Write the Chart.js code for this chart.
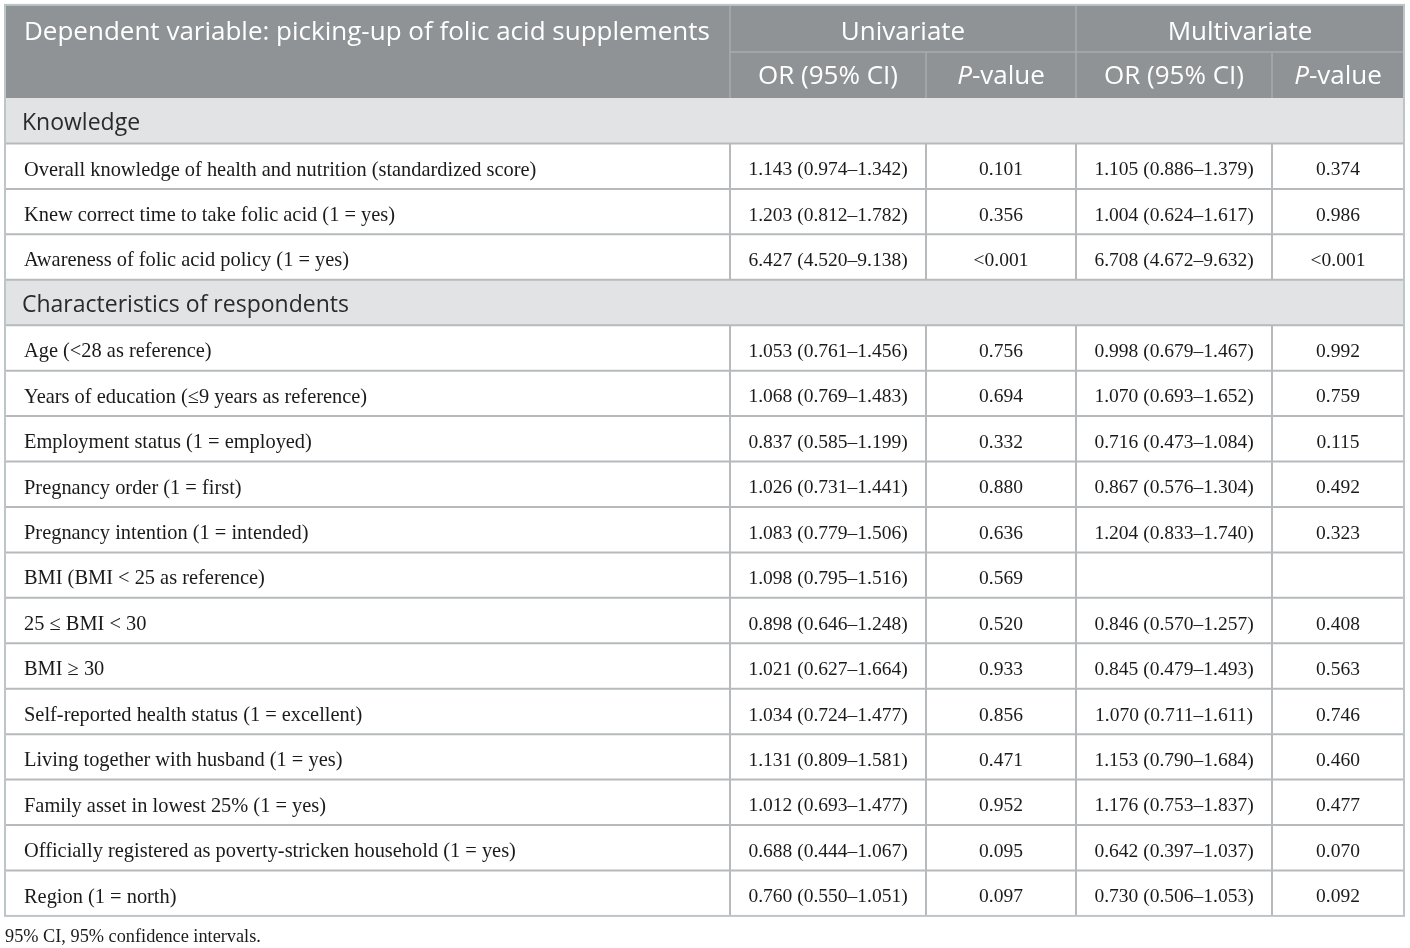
<!DOCTYPE html>
<html>
<head>
<meta charset="utf-8">
<title>Folic acid supplements - logistic regression</title>
<script src="https://cdn.jsdelivr.net/npm/chart.js@4.4.1/dist/chart.umd.min.js"></script>
<style>
    body { margin: 0; background: #ffffff; }
    canvas { display: block; }
</style>
</head>
<body>
<canvas id="tableChart" width="1410" height="948"></canvas>
<script>
// Données du tableau
const titleText = 'Dependent variable: picking-up of folic acid supplements';
const modelNames = ['Univariate', 'Multivariate'];
const statNames = ['OR (95% CI)', 'P-value'];
const sectionNames = ['Knowledge', 'Characteristics of respondents'];
const sectionSizes = [3, 13];
const variables = [
    'Overall knowledge of health and nutrition (standardized score)',
    'Knew correct time to take folic acid (1 = yes)',
    'Awareness of folic acid policy (1 = yes)',
    'Age (<28 as reference)',
    'Years of education (\u22649 years as reference)',
    'Employment status (1 = employed)',
    'Pregnancy order (1 = first)',
    'Pregnancy intention (1 = intended)',
    'BMI (BMI < 25 as reference)',
    '25 \u2264 BMI < 30',
    'BMI \u2265 30',
    'Self-reported health status (1 = excellent)',
    'Living together with husband (1 = yes)',
    'Family asset in lowest 25% (1 = yes)',
    'Officially registered as poverty-stricken household (1 = yes)',
    'Region (1 = north)'
];
const uniOR = [
    '1.143 (0.974\u20131.342)', '1.203 (0.812\u20131.782)', '6.427 (4.520\u20139.138)',
    '1.053 (0.761\u20131.456)', '1.068 (0.769\u20131.483)', '0.837 (0.585\u20131.199)',
    '1.026 (0.731\u20131.441)', '1.083 (0.779\u20131.506)', '1.098 (0.795\u20131.516)',
    '0.898 (0.646\u20131.248)', '1.021 (0.627\u20131.664)', '1.034 (0.724\u20131.477)',
    '1.131 (0.809\u20131.581)', '1.012 (0.693\u20131.477)', '0.688 (0.444\u20131.067)',
    '0.760 (0.550\u20131.051)'
];
const uniP = [
    '0.101', '0.356', '<0.001', '0.756', '0.694', '0.332', '0.880', '0.636',
    '0.569', '0.520', '0.933', '0.856', '0.471', '0.952', '0.095', '0.097'
];
const multiOR = [
    '1.105 (0.886\u20131.379)', '1.004 (0.624\u20131.617)', '6.708 (4.672\u20139.632)',
    '0.998 (0.679\u20131.467)', '1.070 (0.693\u20131.652)', '0.716 (0.473\u20131.084)',
    '0.867 (0.576\u20131.304)', '1.204 (0.833\u20131.740)', '',
    '0.846 (0.570\u20131.257)', '0.845 (0.479\u20131.493)', '1.070 (0.711\u20131.611)',
    '1.153 (0.790\u20131.684)', '1.176 (0.753\u20131.837)', '0.642 (0.397\u20131.037)',
    '0.730 (0.506\u20131.053)'
];
const multiP = [
    '0.374', '0.986', '<0.001', '0.992', '0.759', '0.115', '0.492', '0.323',
    '', '0.408', '0.563', '0.746', '0.460', '0.477', '0.070', '0.092'
];
const footnote = '95% CI, 95% confidence intervals.';

// Mise en page (unités des échelles : x en colonnes, y en lignes)
const colEdges = [5, 730, 926, 1076, 1272, 1404];
const headerTop = -2.05;
const headerMid = -1.01;
const footRow = 18.42;

const sansFont = '"Open Sans", "Noto Sans", sans-serif';
const serifFont = '"Liberation Serif", "DejaVu Serif", serif';
const headSize = 26;

// Construire la liste des lignes (sections + variables)
const rows = [];
let vi = 0;
sectionNames.forEach((name, s) => {
    rows.push({ section: name });
    for (let k = 0; k < sectionSizes[s]; k++) {
        rows.push({ cells: [variables[vi], uniOR[vi], uniP[vi], multiOR[vi], multiP[vi]] });
        vi++;
    }
});

function drawPValue(ctx, cx, cy, size, color) {
    ctx.fillStyle = color;
    ctx.textBaseline = 'middle';
    ctx.textAlign = 'left';
    ctx.font = 'italic ' + size + 'px ' + sansFont;
    const wP = ctx.measureText('P').width;
    ctx.font = size + 'px ' + sansFont;
    const wRest = ctx.measureText('-value').width;
    const start = cx - (wP + wRest) / 2;
    ctx.font = 'italic ' + size + 'px ' + sansFont;
    ctx.fillText('P', start, cy);
    ctx.font = size + 'px ' + sansFont;
    ctx.fillText('-value', start + wP, cy);
}

const tablePlugin = {
    id: 'tableCells',
    afterDraw(chart) {
        const ctx = chart.ctx;
        const X = v => chart.scales.x.getPixelForValue(v);
        const Y = v => chart.scales.y.getPixelForValue(v);
        const left = X(colEdges[0]);
        const right = X(colEdges[colEdges.length - 1]);
        ctx.save();

        // En-tête
        ctx.fillStyle = '#8f9396';
        ctx.fillRect(left, Y(headerTop), right - left, Y(0) - Y(headerTop));
        ctx.strokeStyle = '#a8acaf';
        ctx.lineWidth = 1.5;
        ctx.beginPath();
        ctx.moveTo(X(colEdges[1]), Y(headerMid));
        ctx.lineTo(right, Y(headerMid));
        [1, 3].forEach(c => {
            ctx.moveTo(X(colEdges[c]), Y(headerTop));
            ctx.lineTo(X(colEdges[c]), Y(0));
        });
        [2, 4].forEach(c => {
            ctx.moveTo(X(colEdges[c]), Y(headerMid));
            ctx.lineTo(X(colEdges[c]), Y(0));
        });
        ctx.stroke();

        const topMid = (Y(headerTop) + Y(headerMid)) / 2 + 4;
        const subMid = (Y(headerMid) + Y(0)) / 2 + 2;
        ctx.fillStyle = '#ffffff';
        ctx.textBaseline = 'middle';
        ctx.font = headSize + 'px ' + sansFont;
        ctx.textAlign = 'left';
        ctx.fillText(titleText, X(24), topMid);
        ctx.textAlign = 'center';
        modelNames.forEach((m, k) => {
            const a = colEdges[1 + 2 * k], b = colEdges[3 + 2 * k];
            ctx.fillText(m, X((a + b) / 2), topMid);
        });
        for (let c = 1; c < 5; c++) {
            const cx = X((colEdges[c] + colEdges[c + 1]) / 2);
            if (c % 2 === 1) {
                ctx.font = headSize + 'px ' + sansFont;
                ctx.textAlign = 'center';
                ctx.fillStyle = '#ffffff';
                ctx.fillText(statNames[0], cx, subMid);
            } else {
                drawPValue(ctx, cx, subMid, headSize, '#ffffff');
            }
        }

        // Lignes du corps
        rows.forEach((row, r) => {
            const top = Y(r), bottom = Y(r + 1);
            const mid = (top + bottom) / 2;
            if (row.section) {
                ctx.fillStyle = '#e1e3e4';
                ctx.fillRect(left, top, right - left, bottom - top);
                ctx.fillStyle = '#2a2a2a';
                ctx.font = '23px ' + sansFont;
                ctx.textAlign = 'left';
                ctx.textBaseline = 'middle';
                ctx.fillText(row.section, X(22), mid + 3);
            } else {
                ctx.fillStyle = '#1a1a1a';
                ctx.textBaseline = 'middle';
                ctx.font = '20.4px ' + serifFont;
                ctx.textAlign = 'left';
                ctx.fillText(row.cells[0], X(24), mid + 4);
                ctx.font = '19.5px ' + serifFont;
                ctx.textAlign = 'center';
                for (let c = 1; c < 5; c++) {
                    ctx.fillText(row.cells[c], X((colEdges[c] + colEdges[c + 1]) / 2), mid + 4);
                }
            }
        });

        // Bordures
        ctx.strokeStyle = '#b7babc';
        ctx.lineWidth = 2;
        ctx.beginPath();
        for (let r = 1; r < rows.length; r++) {
            ctx.moveTo(left, Y(r));
            ctx.lineTo(right, Y(r));
        }
        rows.forEach((row, r) => {
            if (row.section) return;
            for (let c = 1; c < colEdges.length - 1; c++) {
                ctx.moveTo(X(colEdges[c]), Y(r));
                ctx.lineTo(X(colEdges[c]), Y(r + 1));
            }
        });
        ctx.stroke();
        ctx.strokeStyle = '#bcc6c8';
        ctx.strokeRect(left, Y(headerTop), right - left, Y(rows.length) - Y(headerTop));

        // Note de bas de tableau
        ctx.fillStyle = '#1a1a1a';
        ctx.font = '18.3px ' + serifFont;
        ctx.textAlign = 'left';
        ctx.textBaseline = 'middle';
        ctx.fillText(footnote, X(5), Y(footRow) + 2);
        ctx.restore();
    }
};

const tableCtx = document.getElementById('tableChart').getContext('2d');
const tableChart = new Chart(tableCtx, {
    type: 'scatter',
    data: { datasets: [] },
    options: {
        responsive: false,
        animation: false,
        layout: { padding: 0 },
        plugins: {
            legend: { display: false },
            tooltip: { enabled: false }
        },
        scales: {
            x: { type: 'linear', min: 0, max: 1410, display: false },
            y: { type: 'linear', min: -2.157, max: 18.706, reverse: true, display: false }
        }
    },
    plugins: [tablePlugin]
});
</script>
</body>
</html>
